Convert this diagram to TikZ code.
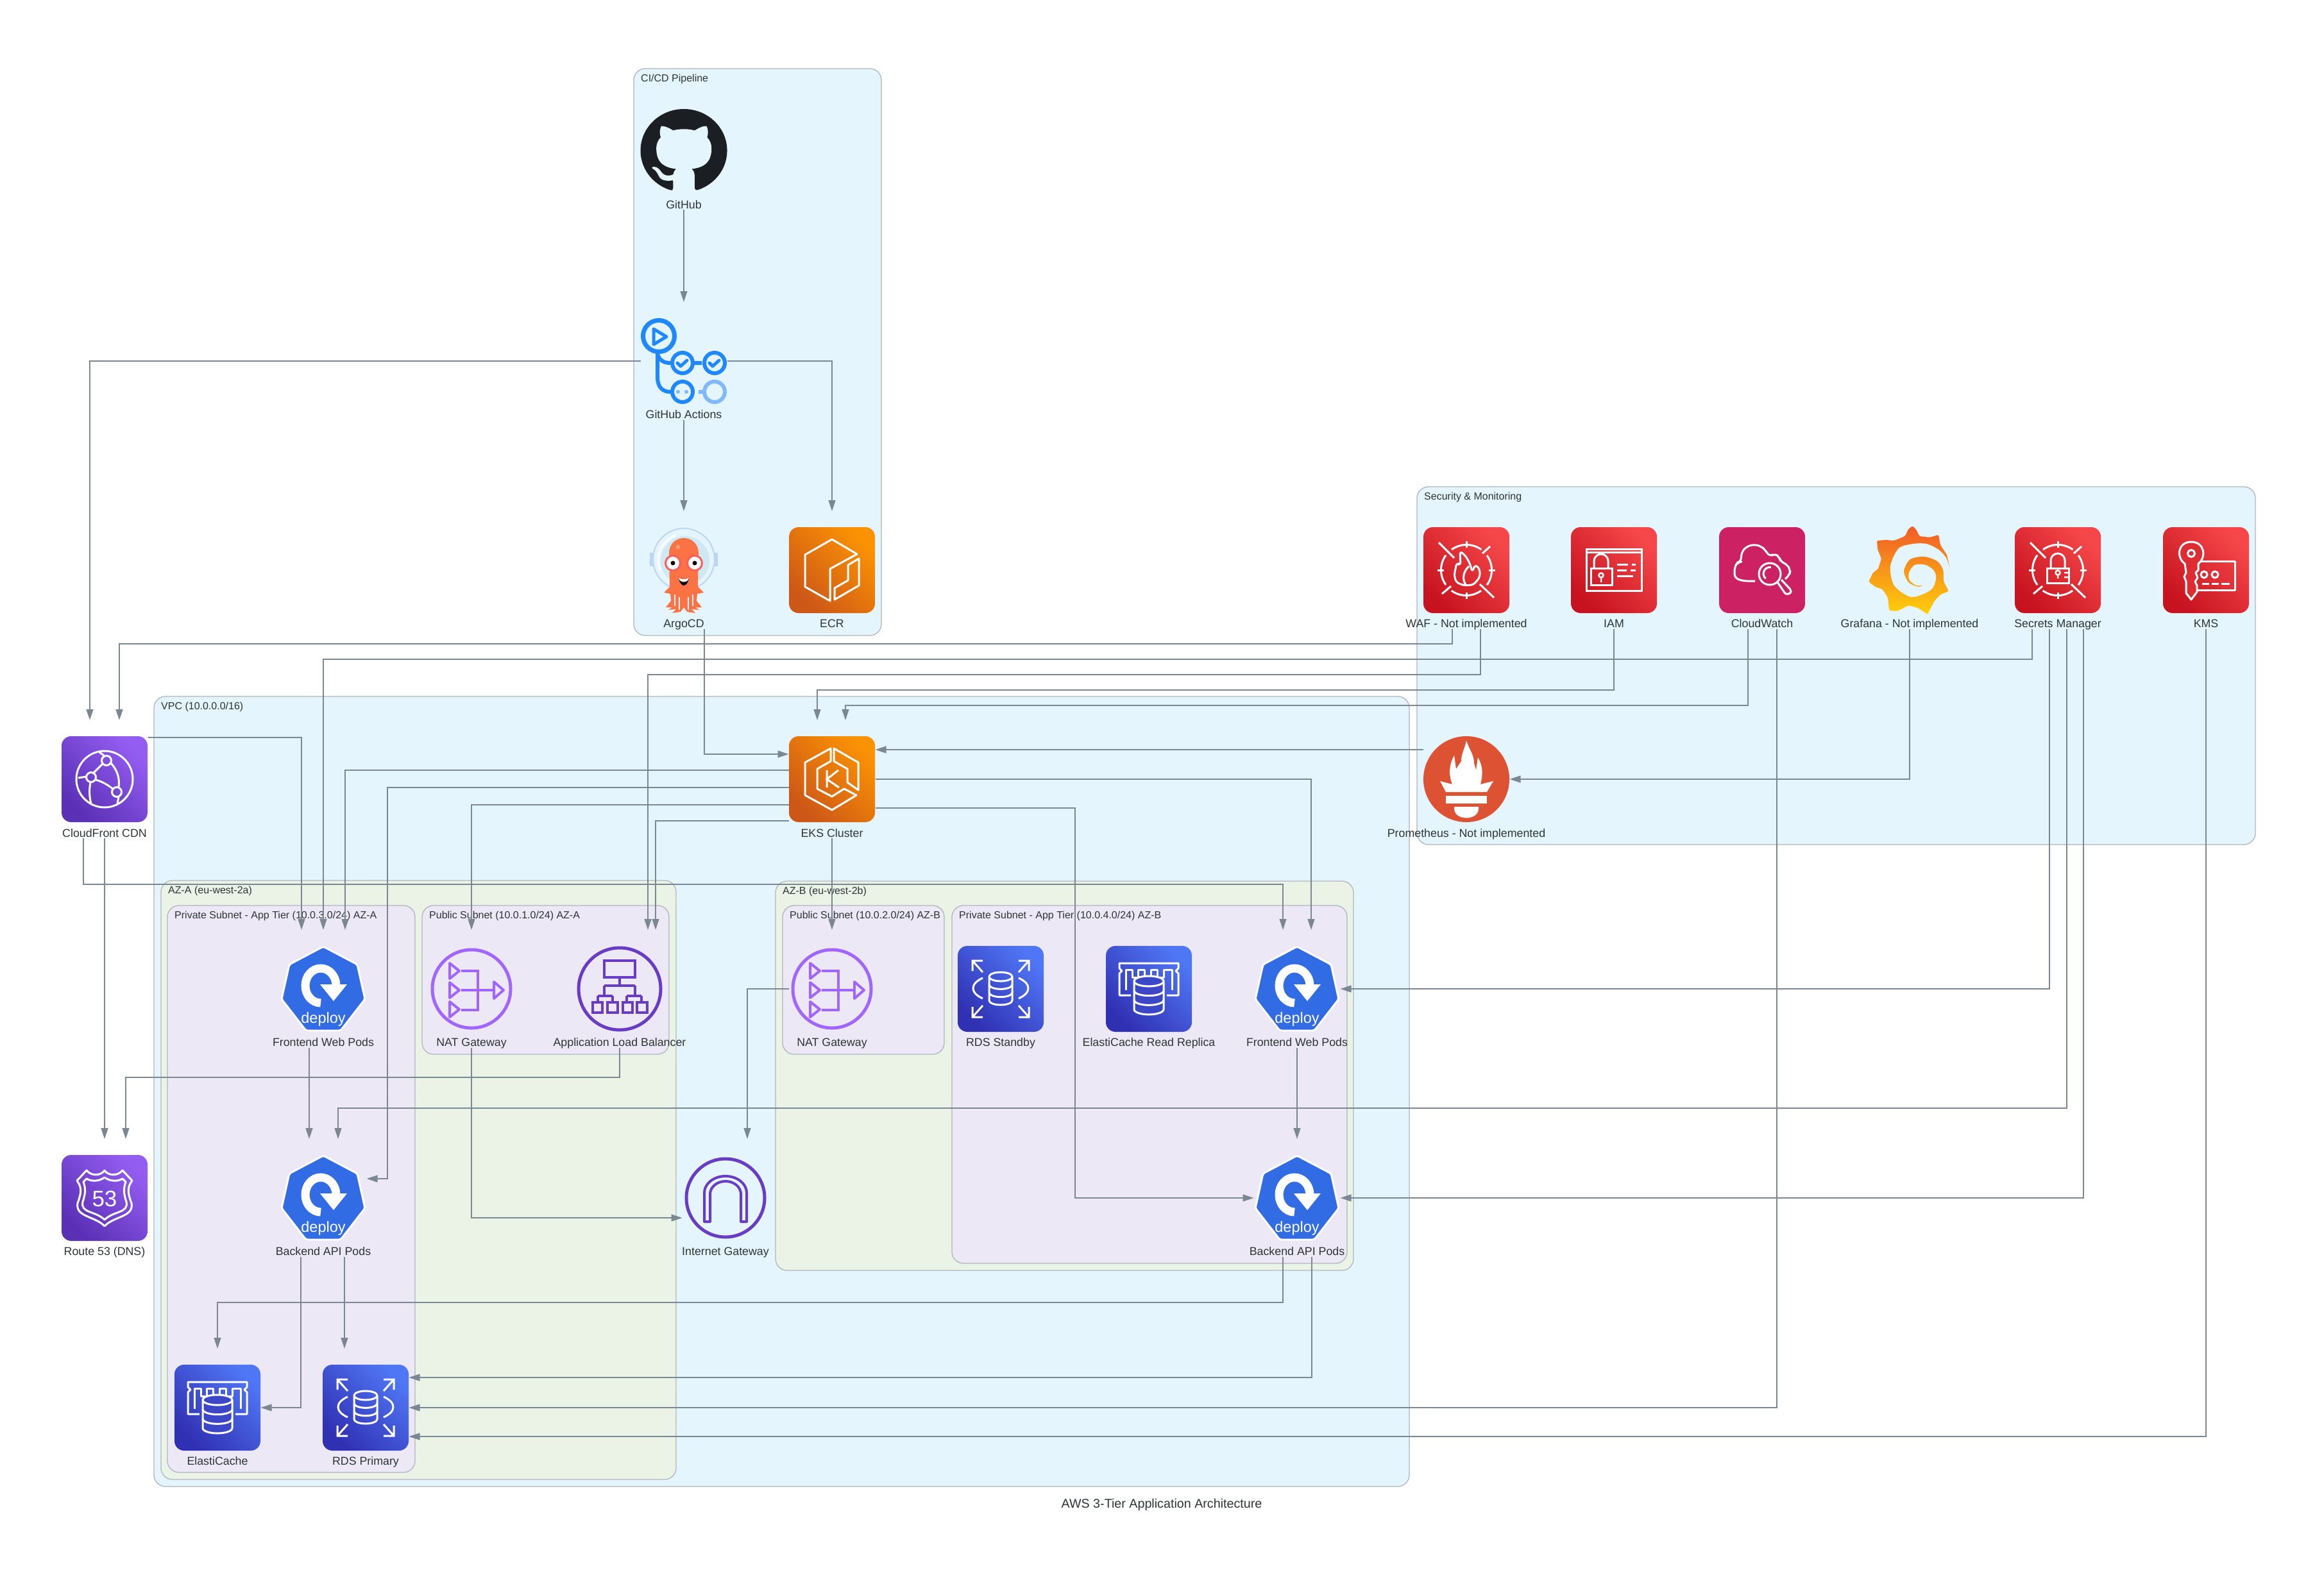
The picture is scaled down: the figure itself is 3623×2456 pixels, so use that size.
\documentclass[tikz,border=0pt]{standalone}
\usepackage{fontspec}
\setmainfont{Liberation Sans}
\usetikzlibrary{positioning,arrows.meta}

\definecolor{edgegray}{HTML}{7B8894}
\definecolor{clusterline}{HTML}{AEB6BE}
\definecolor{labeltext}{HTML}{2D3436}
\definecolor{tierblue}{HTML}{E5F5FD}
\definecolor{tiergreen}{HTML}{EBF3E7}
\definecolor{tierpurple}{HTML}{ECE8F6}
\definecolor{ghdark}{HTML}{1B1F23}
\definecolor{ghblue}{HTML}{2088FF}
\definecolor{ghlight}{HTML}{7FB8FF}
\definecolor{k8sblue}{HTML}{326CE5}
\definecolor{natpurple}{HTML}{A166FF}
\definecolor{albpurple}{HTML}{693CC5}
\definecolor{argocoral}{HTML}{FB7244}
\definecolor{argoeye}{HTML}{F9605A}
\definecolor{argoglow}{HTML}{FFA07A}
\definecolor{helmetrim}{HTML}{BBD6F2}
\definecolor{helmetfill}{HTML}{CFE9F3}
\definecolor{promred}{HTML}{DD5233}
\definecolor{orangelow}{HTML}{CC5717}
\definecolor{orangehigh}{HTML}{FA9204}
\definecolor{redlow}{HTML}{C7131F}
\definecolor{redhigh}{HTML}{F54749}
\definecolor{violetlow}{HTML}{5A30B5}
\definecolor{violethigh}{HTML}{945DF2}
\definecolor{bluelow}{HTML}{3030B2}
\definecolor{bluehigh}{HTML}{4F76F5}
\definecolor{bluemid}{HTML}{3C47C8}
\definecolor{watchpink}{HTML}{CC2264}
\definecolor{grafanatop}{HTML}{F05A28}
\definecolor{grafanabot}{HTML}{FFD00A}
\definecolor{keyred}{HTML}{DF2C33}

% icon parts
\newcommand{\awsbox}[2]{\shade [rounded corners=15pt, bottom color=#1, top color=#2, shading angle=-45] (-67,-67) rectangle (67,67);}
\newcommand{\dbcyl}[5]{%
  \filldraw [fill=#5, draw=white, line width=3pt, line join=round] (-#1,#3) -- (-#1,#3+#4) arc (180:0:#1 and #2) -- (#1,#3) arc (0:-180:#1 and #2) -- cycle;
  \draw [white, line width=3pt] (-#1,#3) arc (180:0:#1 and #2);
  \draw [white, line width=3pt] (-#1,#3+#4/3) arc (180:0:#1 and #2);
  \draw [white, line width=3pt] (-#1,#3+#4*2/3) arc (180:0:#1 and #2);}
\newcommand{\reticle}{%
  \draw [white, line width=3pt] (0,-45) -- (0,-35) (0,35) -- (0,45) (-45,0) -- (-35,0) (35,0) -- (45,0);
  \draw [white, line width=3pt] (-23,-32) arc (234:306:39.4) (23,32) arc (54:126:39.4);
  \draw [white, line width=3pt] (32,-23) arc (-36:36:39.4) (-32,23) arc (144:216:39.4);
  \draw [white, line width=3pt] (-43,-43) -- (-19,-19) (21,22) -- (43,43) (37,-37) -- (25,-26) (-24,25) -- (-38,37);}

\tikzset{
  githubicon/.pic={
    \begin{scope}[shift={(-67.5,-65)},x=8.44pt,y=-8.1pt]
      \fill [ghdark] (8,8) circle (8);
      \fill [tierblue] (5.47,15.59) -- (5.87,15.66) -- (6.02,15.28) -- (6.01,13.72)
        .. controls (4,14.09) and (3.48,13.23) .. (3.32,12.78)
        .. controls (3.23,12.55) and (2.84,11.84) .. (2.5,11.65)
        .. controls (2.22,11.5) and (1.82,11.13) .. (2.49,11.12)
        .. controls (3.12,11.11) and (3.57,11.7) .. (3.72,11.94)
        .. controls (4.44,13.15) and (5.59,12.81) .. (6.05,12.6)
        .. controls (6.12,12.08) and (6.33,11.73) .. (6.56,11.53)
        .. controls (4.78,11.33) and (2.92,10.64) .. (2.92,7.58)
        .. controls (2.92,6.71) and (3.23,5.99) .. (3.74,5.43)
        .. controls (3.66,5.23) and (3.38,4.41) .. (3.82,3.31)
        .. controls (3.82,3.31) and (4.49,3.1) .. (6.02,4.13)
        .. controls (6.66,3.95) and (7.34,3.86) .. (8.02,3.86)
        .. controls (8.7,3.86) and (9.38,3.95) .. (10.02,4.13)
        .. controls (11.55,3.09) and (12.22,3.31) .. (12.22,3.31)
        .. controls (12.66,4.41) and (12.38,5.23) .. (12.3,5.43)
        .. controls (12.81,5.99) and (13.12,6.7) .. (13.12,7.58)
        .. controls (13.12,10.65) and (11.25,11.33) .. (9.47,11.53)
        .. controls (9.76,11.78) and (10.01,12.26) .. (10.01,13.01)
        -- (10,15.21) .. controls (10,15.42) and (10.15,15.67) .. (10.55,15.59)
        -- (10.55,16.2) -- (5.47,16.2) -- cycle;
    \end{scope}
  },
  actionsicon/.pic={
    \draw [ghblue, line width=7pt] (-39,-39) circle (24.5);
    \draw [ghblue, line width=5pt, line join=round] (-47,-50) -- (-27,-38) -- (-47,-26) -- cycle;
    \draw [ghblue, line width=6pt] (-41,-12) -- (-41,25) .. controls (-41,42) and (-32,48) .. (-21,48);
    \draw [ghblue, line width=6pt] (-41,-12) .. controls (-39,-2) and (-32,3) .. (-21,3);
    \draw [ghblue, line width=6pt] (-2,3) circle (16) (48,3) circle (16) (-2,48) circle (16) (17,3) -- (28,3);
    \draw [ghblue, line width=5pt, line cap=round, line join=round] (-10,3) -- (-5,8) -- (5,-1) (40,3) -- (45,8) -- (55,-1);
    \fill [ghlight] (-9,48) circle (3) (4,48) circle (3);
    \draw [ghlight, line width=6pt] (48,48) circle (16) (23,48) -- (32,48);
  },
  argoicon/.pic={
    \fill [helmetrim] (-53,-27) rectangle (-47,-6) (47,-27) rectangle (53,-6);
    \draw [helmetrim, line width=2pt] (0,-17) circle (48);
    \fill [helmetfill] (2,-15) circle (38);
    \draw [white, line width=2.5pt] (-36,1) arc (155:250:40);
    \fill [white] (-15,-54) circle (2.5);
    \fill [argocoral] (-23,-26) .. controls (-23,-58) and (23,-58) .. (23,-26) -- (22,26) -- (31,35) -- (21,37) -- (20,48) -- (28,58) -- (18,58) -- (24,62)
      -- (12,61) -- (18,67) -- (5,65) -- (0,58) -- (-5,65) -- (-18,67) -- (-12,61) -- (-24,62) -- (-18,58) -- (-28,58) -- (-20,48) -- (-21,37) -- (-31,35) -- (-22,26) -- cycle;
    \filldraw [fill=white, draw=argoeye, line width=3pt] (-17,-11) circle (11.5) (17,-11) circle (11.5);
    \fill [black] (-17,-11) circle (3.5) (17,-11) circle (3.5);
    \fill [black] (-8,12) .. controls (-3,15) and (3,15) .. (8,12) .. controls (7,20) and (3,24) .. (0,24) .. controls (-3,24) and (-7,20) .. (-8,12) -- cycle;
    \fill [white] (-8,12) .. controls (-3,15) and (3,15) .. (8,12) .. controls (7,15) and (6,17) .. (5,17) .. controls (2,19) and (-2,19) .. (-5,17) .. controls (-6,17) and (-7,15) .. (-8,12) -- cycle;
    \draw [tierblue, line width=1.2pt] (-14,38) -- (-14,56) (-7,42) -- (-7,62) (7,42) -- (7,62) (14,38) -- (14,56);
    \fill [argoglow] (-9,-36) circle (3.3);
  },
  ecricon/.pic={
    \awsbox{orangelow}{orangehigh}
    \draw [white, line width=3pt, line join=round] (0,-48) -- (39,-25) -- (-3,-2) -- (-3,48) -- (-42,26) -- (-42,-24) -- cycle;
    \draw [white, line width=3pt, line join=round] (4,46) -- (42,24) -- (42,-18) -- (25,-8) -- (25,16) -- (4,28) -- cycle;
  },
  wgraficon/.pic={
    \awsbox{redlow}{redhigh}
    \reticle
    \draw [white, line width=3pt, line join=round, rounded corners=5pt] (-19,8) -- (-15,-12) -- (-9,-7) -- (-10,-30) -- (-1,-22) -- (6,-9) -- (9,3) -- (14,-9) -- (21,-1) -- (21,11) -- (11,23) -- (-4,24) -- (-16,19) -- cycle;
    \draw [white, line width=3pt] (-1,23) .. controls (-7,14) and (-5,2) .. (4,-6);
  },
  iamicon/.pic={
    \awsbox{redlow}{redhigh}
    \draw [white, line width=3pt] (-43,-33) rectangle (43,32) (-43,-28) -- (43,-28);
    \draw [white, line width=3pt] (-36,-3) rectangle (-3,23);
    \draw [white, line width=3pt] (-31,-3) -- (-31,-14) arc (180:360:11) -- (-9,-3);
    \draw [white, line width=2.5pt] (-20,8) circle (3.5) (-20,11) -- (-20,19);
    \draw [white, line width=3pt] (5,-9) -- (22,-9) (28,-9) -- (34,-9) (5,0) -- (20,0) (26,0) -- (34,0) (5,9) -- (30,9);
  },
  watchicon/.pic={
    \fill [watchpink, rounded corners=15pt] (-67,-67) rectangle (67,67);
    \draw [white, line width=3pt, line join=round, rounded corners=6pt] (-11,17) -- (-30,17) -- (-43,12) -- (-43,-5) -- (-38,-12) -- (-33,-13) -- (-32,-28) -- (-24,-37) -- (-12,-40) -- (-1,-37) -- (5,-31) -- (12,-21) -- (20,-26) -- (27,-20) -- (29,-13) -- (39,-9) -- (44,0) -- (43,7) -- (36,14);
    \draw [white, line width=3pt] (12,6) circle (17);
    \draw [white, line width=3pt] (5.6,13.2) arc (130:280:10);
    \draw [white, line width=3pt, line join=round, rounded corners=3pt] (24,19) -- (37,38) -- (45,36) -- (45,31) -- (30,15);
  },
  grafanaicon/.pic={
    \shade [top color=grafanatop, bottom color=grafanabot, rounded corners=2pt] (5,-69) -- (11,-62) -- (15,-53) -- (31,-51) -- (45,-55) -- (48,-39) -- (58,-24) -- (63,-2) -- (53,18)
      -- (61,33) -- (48,38) -- (38,49) -- (28,69) -- (13,59) -- (-2,55) -- (-19,64) -- (-32,63) -- (-34,43) -- (-42,30) -- (-54,26) -- (-64,18)
      -- (-57,4) -- (-49,-2) -- (-44,-18) -- (-50,-32) -- (-51,-46) -- (-37,-47) -- (-24,-46) -- (-7,-53) -- (-2,-64) -- cycle;
    \fill [tierblue] plot [smooth] coordinates {(63,-2) (57,-19) (45,-32) (26,-41) (6,-41) (-17,-34) (-30,-6) (-24,24) (3,42) (33,31) (41,14) (38,1) (25,-8) (8,-8) (-1,4) (0,16) (11,24) (21,23)}
      -- plot [smooth] coordinates {(21,23) (13,26) (-2,19) (-9,1) (1,-17) (23,-21) (43,-14) (52,-1) (53,18)} -- (72,14) -- (72,-2) -- cycle;
  },
  secreticon/.pic={
    \awsbox{redlow}{redhigh}
    \reticle
    \draw [white, line width=3pt] (-17,-3) rectangle (17,20);
    \draw [white, line width=3pt] (-11,-3) -- (-11,-15) arc (180:360:11) -- (11,-3);
    \draw [white, line width=2.5pt] (0,4) circle (3.5) (0,7) -- (0,13) (10,4) -- (17,4) (10,11) -- (17,11);
  },
  kmsicon/.pic={
    \awsbox{redlow}{redhigh}
    \draw [white, line width=3pt, line join=round] (-14,-14) -- (45,-14) -- (45,31) -- (-14,31) (-14,-2) -- (-14,-14);
    \filldraw [fill=keyred, draw=white, line width=3pt, line join=round] (-33,-10) .. controls (-47,-20) and (-44,-44) .. (-23,-44) .. controls (-2,-44) and (1,-20) .. (-12,-10)
      -- (-12,0) -- (-16,4) -- (-13,12) -- (-17,18) -- (-14,24) -- (-14,34) -- (-23,46) -- (-31,36) -- (-31,18) -- (-34,10) -- (-31,4) -- cycle;
    \draw [white, line width=3pt] (-23,-26) circle (5.5) (-3,7) circle (5) (14,7) circle (5);
    \draw [white, line width=3pt] (-6,21) -- (5,21) (9,21) -- (20,21) (24,21) -- (37,21);
  },
  prometheusicon/.pic={
    \fill [promred] (0,0) circle (67);
    \fill [white] (0,-60) .. controls (5,-45) and (12,-38) .. (12,-25) -- (15,-14) -- (18,-34) .. controls (26,-20) and (26,-8) .. (22,8)
      -- (42,3) -- (32,20) -- (-32,20) -- (-41,3) -- (-22,8) .. controls (-30,-12) and (-24,-28) .. (-19,-37)
      -- (-16,-16) -- (-8,-28) .. controls (-8,-40) and (-3,-46) .. (0,-60) -- cycle;
    \fill [white] (-32,26) rectangle (32,37.5);
    \fill [white] (-19,43) -- (19,43) -- (19,47) .. controls (17,65) and (-17,65) .. (-19,47) -- cycle;
  },
  cdnicon/.pic={
    \awsbox{violetlow}{violethigh}
    \draw [white, line width=3pt] (0,0) circle (44);
    \draw [white, line width=3pt] (3,-29) circle (7.5) (-21,-3) circle (7.5) (19,20) circle (7.5);
    \draw [white, line width=3pt] (-17,-10) -- (-3,-24) (-14,1) .. controls (-5,3) and (5,9) .. (13,15) (9,-26) .. controls (20,-15) and (24,0) .. (22,12) (-22,5) .. controls (-24,15) and (-24,28) .. (-21,38) (-28,-4) -- (-41,-2) (-1,-37) -- (-8,-42) (22,28) -- (20,38);
  },
  routeicon/.pic={
    \awsbox{violetlow}{violethigh}
    \draw [white, line width=3pt, line join=round] (0,-43) .. controls (-5,-35) and (-20,-33) .. (-28,-43) -- (-43,-27) .. controls (-35,-16) and (-36,-8) .. (-42,8)
      .. controls (-46,30) and (-15,28) .. (0,44) .. controls (15,28) and (46,30) .. (42,8) .. controls (36,-8) and (35,-16) .. (43,-27) -- (28,-43) .. controls (20,-33) and (5,-35) .. (0,-43) -- cycle;
    \draw [white, line width=3pt, line join=round] (0,-32) .. controls (-8,-26) and (-20,-25) .. (-28,-30) -- (-33,-25) .. controls (-29,-14) and (-30,-6) .. (-34,6)
      .. controls (-38,24) and (-14,20) .. (0,34) .. controls (14,20) and (38,24) .. (34,6) .. controls (30,-6) and (29,-14) .. (33,-25) -- (28,-30) .. controls (20,-25) and (8,-26) .. (0,-32) -- cycle;
    \node (-num) [white, inner sep=0pt, font=\fontsize{35}{35}\selectfont] at (0,1) {53};
  },
  podicon/.pic={
    \filldraw [fill=k8sblue, draw=white, line width=3pt, line join=round, rounded corners=3pt] (0,-66) -- (53,-38) -- (65,16) -- (27,65) -- (-27,65) -- (-65,16) -- (-53,-38) -- cycle;
    \draw [white, line width=13pt] (-4,22) arc (90:360:24 and 27);
    \fill [white] (-5,-7) -- (37,-7) -- (16,19) -- cycle;
    \node (-word) [white, inner sep=0pt, font=\fontsize{23.5}{24}\selectfont] at (0,47) {deploy};
  },
  naticon/.pic={
    \draw [natpurple, line width=5pt] (0,0) circle (61);
    \draw [natpurple, line width=4pt, line join=round] (-34,-40) -- (-19,-28) -- (-34,-16) -- cycle (-34,-10) -- (-19,2) -- (-34,14) -- cycle (-34,20) -- (-19,32) -- (-34,44) -- cycle (35,-11) -- (50,2) -- (35,15) -- cycle;
    \draw [natpurple, line width=4pt] (-16,-28) -- (10,-28) -- (10,33) -- (-16,33) (-16,2) -- (35,2);
  },
  albicon/.pic={
    \draw [albpurple, line width=5pt] (0,0) circle (64);
    \draw [albpurple, line width=4pt] (-24,-44) rectangle (24,-18) (0,-18) -- (0,-5) (-24,-5) -- (24,-5) (-24,-5) -- (-24,11) (24,-5) -- (24,11) (-34,11) -- (-11,11) (11,11) -- (34,11) (-34,11) -- (-34,21) (-11,11) -- (-11,21) (11,11) -- (11,21) (34,11) -- (34,21);
    \draw [albpurple, line width=4pt] (-42,21) rectangle (-27,37) (-19,21) rectangle (-3,37) (5,21) rectangle (20,37) (27,21) rectangle (43,37);
  },
  igwicon/.pic={
    \draw [albpurple, line width=5pt] (0,0) circle (61);
    \draw [albpurple, line width=4pt, line join=round] (-33,37) -- (-33,-8) arc (180:360:33 and 26) -- (33,37) -- (24,37) -- (24,-6) arc (360:180:24 and 20) -- (-24,37) -- cycle;
  },
  rdsicon/.pic={
    \awsbox{bluelow}{bluehigh}
    \foreach \sx/\sy in {-1/-1,1/-1,-1/1,1/1}
      \draw [white, line width=3pt] (\sx*44,\sy*28) -- (\sx*44,\sy*44) -- (\sx*28,\sy*44) (\sx*44,\sy*44) -- (\sx*28,\sy*26);
    \draw [white, line width=3pt] (-28,-17) .. controls (-48,-8) and (-48,6) .. (-28,15) (28,-17) .. controls (48,-8) and (48,6) .. (28,15);
    \dbcyl{18}{7}{-19}{37}{none}
  },
  cacheicon/.pic={
    \awsbox{bluelow}{bluehigh}
    \draw [white, line width=3pt, line join=round] (-28,10) -- (-46,10) -- (-46,-24) -- (-42,-28) -- (-46,-32) -- (-46,-40) -- (46,-40) -- (46,-32) -- (42,-28) -- (46,-24) -- (46,10) -- (28,10);
    \draw [white, line width=3pt, line join=round] (-36,2) -- (-36,-30) -- (-26,-30) -- (-26,-18) -- (-17,-18) -- (-17,-30) -- (-7,-30) -- (-7,-18) -- (3,-18) -- (3,-30) -- (13,-30) -- (13,-18) -- (23,-18) -- (23,-30) -- (36,-30) -- (36,2);
    \dbcyl{23}{8}{-12}{44}{bluemid}
  },
  eksicon/.pic={
    \awsbox{orangelow}{orangehigh}
    \draw [white, line width=3pt, line join=round] (-2,-48) -- (-42,-26) -- (-42,25) -- (0,48) -- (38,25) -- (19,15) -- (0,27) -- (-23,15) -- (-23,-16) -- (-2,-28) -- cycle;
    \draw [white, line width=3pt, line join=round] (3,-48) -- (41,-26) -- (41,17) -- (24,5) -- (24,-16) -- (3,-28) -- cycle;
    \draw [white, line width=3pt] (-8,-14) -- (-8,13) (10,-14) -- (-8,0) -- (11,13);
  },
}

\begin{document}
\begin{tikzpicture}[x=1pt,y=-1pt]

% definitions
\tikzstyle{cluster} = [rectangle, anchor=north west, rounded corners=18pt, draw=clusterline, line width=1.3pt, inner sep=0pt, outer sep=0pt]
\tikzstyle{clustertitle} = [anchor=north west, inner sep=0pt, text=labeltext, font=\fontsize{16}{18}\selectfont, text height=14pt, text depth=4pt]
\tikzstyle{service} = [rectangle, minimum width=135pt, minimum height=184pt, inner sep=0pt, outer sep=0pt]
\tikzstyle{caption} = [inner sep=0pt, text=labeltext, font=\fontsize{17.8}{20}\selectfont, text height=12pt, text depth=1pt]
\tikzstyle{arrow} = [->,>={Stealth[length=17pt,width=11pt,inset=0pt]}, draw=edgegray, line width=1.4pt]

\useasboundingbox (0,0) rectangle (3623,2456);

% the clusters
\node (cicd) [cluster, fill=tierblue, minimum width=386pt, minimum height=884pt] at (988,107) {};
\node (cicd-t) [clustertitle, below right=6pt and 11pt of cicd.north west] {CI/CD Pipeline};

\node (security) [cluster, fill=tierblue, minimum width=1307pt, minimum height=558pt] at (2209,759) {};
\node (security-t) [clustertitle, below right=6pt and 11pt of security.north west] {Security \& Monitoring};

\node (vpc) [cluster, fill=tierblue, minimum width=1957pt, minimum height=1232pt] at (240,1086) {};
\node (vpc-t) [clustertitle, below right=6pt and 11pt of vpc.north west] {VPC (10.0.0.0/16)};

\node (aza) [cluster, fill=tiergreen, minimum width=803pt, minimum height=934pt] at (251,1373) {};
\node (aza-t) [clustertitle, below right=6pt and 11pt of aza.north west] {AZ-A (eu-west-2a)};

\node (azb) [cluster, fill=tiergreen, minimum width=901pt, minimum height=607pt] at (1209,1374) {};
\node (azb-t) [clustertitle, below right=6pt and 11pt of azb.north west] {AZ-B (eu-west-2b)};

\node (priva) [cluster, fill=tierpurple, minimum width=386pt, minimum height=884pt] at (261,1412) {};
\node (priva-t) [clustertitle, below right=6pt and 11pt of priva.north west] {Private Subnet - App Tier (10.0.3.0/24) AZ-A};

\node (puba) [cluster, fill=tierpurple, minimum width=385pt, minimum height=232pt] at (658,1412) {};
\node (puba-t) [clustertitle, below right=6pt and 11pt of puba.north west] {Public Subnet (10.0.1.0/24) AZ-A};

\node (pubb) [cluster, fill=tierpurple, minimum width=252pt, minimum height=232pt] at (1220,1412) {};
\node (pubb-t) [clustertitle, below right=6pt and 11pt of pubb.north west] {Public Subnet (10.0.2.0/24) AZ-B};

\node (privb) [cluster, fill=tierpurple, minimum width=616pt, minimum height=558pt] at (1484,1412) {};
\node (privb-t) [clustertitle, below right=6pt and 11pt of privb.north west] {Private Subnet - App Tier (10.0.4.0/24) AZ-B};

% the services
\node (github) [service] at (1066,235) {};
\pic (githubpic) at (github) {githubicon};
\node (github-t) [caption, above=0pt of github.south] {GitHub};

\node (actions) [service] at (1066,563) {};
\pic (actionspic) at (actions) {actionsicon};
\node (actions-t) [caption, above=1pt of actions.south] {GitHub Actions};

\node (argocd) [service] at (1066,889) {};
\pic (argocdpic) at (argocd) {argoicon};
\node (argocd-t) [caption, above=1pt of argocd.south] {ArgoCD};

\node (ecr) [service] at (1297,889) {};
\pic (ecrpic) at (ecr) {ecricon};
\node (ecr-t) [caption, above=1pt of ecr.south] {ECR};

\node (waf) [service] at (2286,889) {};
\pic (wafpic) at (waf) {wgraficon};
\node (waf-t) [caption, above=1pt of waf.south] {WAF - Not implemented};

\node (iam) [service] at (2516,889) {};
\pic (iampic) at (iam) {iamicon};
\node (iam-t) [caption, above=1pt of iam.south] {IAM};

\node (cloudwatch) [service] at (2747,889) {};
\pic (cloudwatchpic) at (cloudwatch) {watchicon};
\node (cloudwatch-t) [caption, above=1pt of cloudwatch.south] {CloudWatch};

\node (grafana) [service] at (2977,889) {};
\pic (grafanapic) at (grafana) {grafanaicon};
\node (grafana-t) [caption, above=1pt of grafana.south] {Grafana - Not implemented};

\node (secrets) [service] at (3208,889) {};
\pic (secretspic) at (secrets) {secreticon};
\node (secrets-t) [caption, above=1pt of secrets.south] {Secrets Manager};

\node (kms) [service] at (3439,889) {};
\pic (kmspic) at (kms) {kmsicon};
\node (kms-t) [caption, above=1pt of kms.south] {KMS};

\node (prometheus) [service] at (2286,1215) {};
\pic (prometheuspic) at (prometheus) {prometheusicon};
\node (prometheus-t) [caption, above=0pt of prometheus.south] {Prometheus - Not implemented};

\node (cdn) [service] at (163,1215) {};
\pic (cdnpic) at (cdn) {cdnicon};
\node (cdn-t) [caption, above=0pt of cdn.south] {CloudFront CDN};

\node (eks) [service] at (1297,1215) {};
\pic (ekspic) at (eks) {eksicon};
\node (eks-t) [caption, above=0pt of eks.south] {EKS Cluster};

\node (fronta) [service] at (504,1542) {};
\pic (frontapic) at (fronta) {podicon};
\node (fronta-t) [caption, above=1pt of fronta.south] {Frontend Web Pods};

\node (nata) [service] at (735,1542) {};
\pic (natapic) at (nata) {naticon};
\node (nata-t) [caption, above=1pt of nata.south] {NAT Gateway};

\node (alb) [service] at (966,1542) {};
\pic (albpic) at (alb) {albicon};
\node (alb-t) [caption, above=1pt of alb.south] {Application Load Balancer};

\node (natb) [service] at (1297,1542) {};
\pic (natbpic) at (natb) {naticon};
\node (natb-t) [caption, above=1pt of natb.south] {NAT Gateway};

\node (rdsb) [service] at (1560,1542) {};
\pic (rdsbpic) at (rdsb) {rdsicon};
\node (rdsb-t) [caption, above=1pt of rdsb.south] {RDS Standby};

\node (cacheb) [service] at (1791,1542) {};
\pic (cachebpic) at (cacheb) {cacheicon};
\node (cacheb-t) [caption, above=1pt of cacheb.south] {ElastiCache Read Replica};

\node (frontb) [service] at (2022,1542) {};
\pic (frontbpic) at (frontb) {podicon};
\node (frontb-t) [caption, above=1pt of frontb.south] {Frontend Web Pods};

\node (route53) [service] at (163,1868) {};
\pic (route53pic) at (route53) {routeicon};
\node (route53-t) [caption, above=1pt of route53.south] {Route 53 (DNS)};

\node (backa) [service] at (504,1868) {};
\pic (backapic) at (backa) {podicon};
\node (backa-t) [caption, above=1pt of backa.south] {Backend API Pods};

\node (igw) [service] at (1131,1868) {};
\pic (igwpic) at (igw) {igwicon};
\node (igw-t) [caption, above=1pt of igw.south] {Internet Gateway};

\node (backb) [service] at (2022,1868) {};
\pic (backbpic) at (backb) {podicon};
\node (backb-t) [caption, above=1pt of backb.south] {Backend API Pods};

\node (cachea) [service] at (339,2195) {};
\pic (cacheapic) at (cachea) {cacheicon};
\node (cachea-t) [caption, above=1pt of cachea.south] {ElastiCache};

\node (rdsa) [service] at (570,2195) {};
\pic (rdsapic) at (rdsa) {rdsicon};
\node (rdsa-t) [caption, above=1pt of rdsa.south] {RDS Primary};

\node (title) [inner sep=0pt, text=labeltext, font=\fontsize{19.7}{22}\selectfont] at (1811,2346) {AWS 3-Tier Application Architecture};

% the graph
\draw [arrow] (github) -- (actions);
\draw [arrow] (actions) -- (argocd);
\draw [arrow] (actions.east) -| (ecr.north);
\draw [arrow] (actions.west) -| ([xshift=-23pt]cdn.north);
\draw [arrow] ([xshift=32pt]argocd.south) |- ([yshift=39pt]eks.west);

\draw [arrow] ([xshift=-22pt]waf.south) -- ++(0,23) -| ([xshift=23pt]cdn.north);
\draw [arrow] ([xshift=22pt]waf.south) -- ++(0,71) -| ([xshift=44pt]alb.north);
\draw [arrow] (iam.south) -- ++(0,95) -| ([xshift=-23pt]eks.north);
\draw [arrow] ([xshift=-22pt]cloudwatch.south) -- ++(0,119) -| ([xshift=21pt]eks.north);
\draw [arrow] ([xshift=23pt]cloudwatch.south) |- (rdsa.east);
\draw [arrow] (grafana.south) |- (prometheus.east);
\draw [arrow] ([xshift=-40pt]secrets.south) -- ++(0,47) -| (fronta.north);
\draw [arrow] ([xshift=-13pt]secrets.south) |- (frontb.east);
\draw [arrow] ([xshift=14pt]secrets.south) -- ++(0,747) -| ([xshift=23pt]backa.north);
\draw [arrow] ([xshift=40pt]secrets.south) |- (backb.east);
\draw [arrow] (kms.south) |- ([yshift=-45pt]rdsa.east);
\draw [arrow] ([yshift=46pt]prometheus.west) -- ([yshift=46pt]eks.east);

\draw [arrow] ([yshift=14pt]eks.west) -| ([xshift=34pt]fronta.north);
\draw [arrow] ([yshift=-13pt]eks.west) -- ++(-625.5,0) |- ([yshift=30pt]backa.east);
\draw [arrow] ([yshift=-40pt]eks.west) -| (nata.north);
\draw [arrow] ([yshift=-65pt]eks.west) -| ([xshift=56pt]alb.north);
\draw [arrow] (eks.east) -| ([xshift=22pt]frontb.north);
\draw [arrow] ([yshift=-45pt]eks.east) -- ++(311.5,0) |- (backb.west);
\draw [arrow] (eks) -- (natb);

\draw [arrow] ([yshift=65pt]cdn.east) -| ([xshift=-34pt]fronta.north);
\draw [arrow] ([xshift=-33pt]cdn.south) -- ++(0,72) -| ([xshift=-22pt]frontb.north);
\draw [arrow] (cdn) -- (route53);
\draw [arrow] (alb.south) -- ++(0,46) -| ([xshift=33pt]route53.north);

\draw [arrow] ([xshift=-22pt]fronta.south) -- ([xshift=-22pt]backa.north);
\draw [arrow] ([xshift=33pt]backa.south) -- ([xshift=-33pt]rdsa.north);
\draw [arrow] ([xshift=-35pt]backa.south) |- (cachea.east);
\draw [arrow] (frontb) -- (backb);
\draw [arrow] ([xshift=-22pt]backb.south) -- ++(0,71) -| (cachea.north);
\draw [arrow] ([xshift=23pt]backb.south) |- ([yshift=47pt]rdsa.east);
\draw [arrow] (nata.south) |- ([yshift=-31pt]igw.west);
\draw [arrow] (natb.west) -| ([xshift=34pt]igw.north);

\end{tikzpicture}
\end{document}
